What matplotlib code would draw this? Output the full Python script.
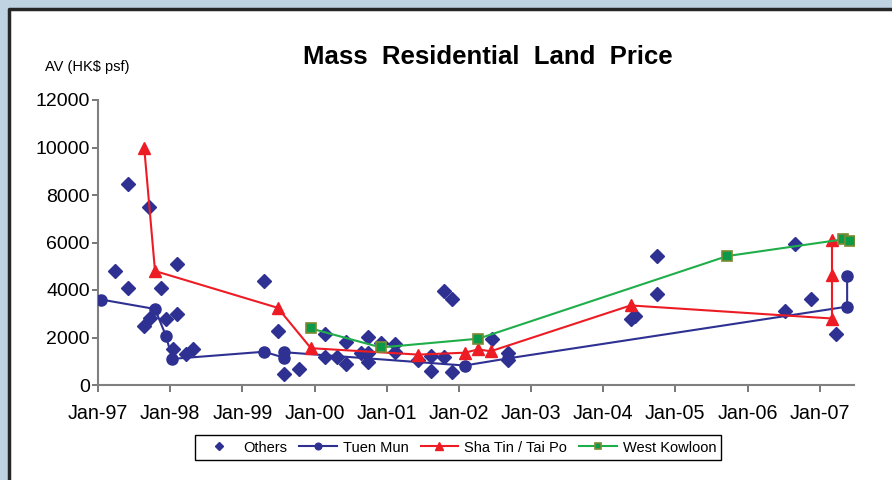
import numpy as np
import matplotlib
matplotlib.use('Agg')
import matplotlib.pyplot as plt
from matplotlib.patches import Rectangle
from matplotlib.lines import Line2D

plt.rcParams['font.family'] = ['Liberation Sans', 'DejaVu Sans']

# x values are decimal years
others_x = [1997.23, 1997.42, 1997.42, 1997.64, 1997.71, 1997.72, 1997.87, 1997.94,
            1998.04, 1998.10, 1998.10, 1998.22, 1998.31, 1999.30, 1999.49, 1999.58,
            1999.78, 2000.15, 2000.15, 2000.31, 2000.43, 2000.43, 2000.65, 2000.74,
            2000.74, 2000.74, 2000.92, 2001.12, 2001.12, 2001.44, 2001.61, 2001.61,
            2001.79, 2001.79, 2001.90, 2001.90, 2002.46, 2002.68, 2002.68, 2004.38,
            2004.44, 2004.75, 2004.75, 2006.52, 2006.66, 2006.88, 2007.22]
others_y = [4800, 8450, 4100, 2480, 7500, 2840, 4100, 2770,
            1520, 5080, 2980, 1290, 1520, 4380, 2290, 460,
            670, 2130, 1165, 1165, 1800, 880, 1350, 1350,
            2030, 950, 1750, 1730, 1380, 1050, 1235, 600,
            1165, 3960, 3610, 530, 1940, 1330, 1050, 2780,
            2900, 5430, 3830, 3130, 5920, 3620, 2130]

tuen_mun_x = [1997.04, 1997.79, 1997.94, 1998.03, 1999.30, 1999.58, 1999.58,
              2002.08, 2002.68, 2007.38, 2007.38]
tuen_mun_y = [3600, 3200, 2080, 1100, 1400, 1150, 1380, 820, 1120, 3300, 4600]

sha_tin_x = [1997.64, 1997.79, 1999.49, 1999.95, 2001.44, 2002.08, 2002.27,
             2002.44, 2004.38, 2007.17, 2007.17, 2007.17]
sha_tin_y = [10000, 4800, 3250, 1550, 1280, 1360, 1500, 1420, 3350, 2800, 4620, 6100]

west_kln_x = [1999.95, 2000.92, 2002.27, 2005.72, 2007.32, 2007.42]
west_kln_y = [2380, 1580, 1950, 5430, 6130, 6070]

tick_years = list(range(1997, 2008))
tick_labels = ['Jan-97', 'Jan-98', 'Jan-99', 'Jan-00', 'Jan-01', 'Jan-02',
               'Jan-03', 'Jan-04', 'Jan-05', 'Jan-06', 'Jan-07']

fig = plt.figure(figsize=(8.92, 4.8), dpi=100)
fig.patch.set_facecolor('#bfd3e3')

# white panel, dark border only on top and left
x0, y1 = 9 / 892, 1 - 9 / 480
fig.add_artist(Rectangle((x0, -0.05), 1.1, y1 + 0.05, transform=fig.transFigure,
                         facecolor='white', edgecolor='none', zorder=0))
fig.add_artist(Line2D([x0, x0, 1.05], [-0.05, y1, y1], transform=fig.transFigure,
                      color='#262626', lw=2.5, zorder=0.5))

ax = fig.add_axes([98 / 892, 95 / 480, 756 / 892, 285 / 480])
ax.set_facecolor('none')

navy = '#2e3192'
red = '#ed1c24'
green = '#1fae4a'

ax.plot(others_x, others_y, linestyle='none', marker='D', markersize=7,
        color=navy, label='Others', zorder=3)
ax.plot(tuen_mun_x, tuen_mun_y, color=navy, lw=1.5, marker='o', markersize=8,
        label='Tuen Mun', zorder=4)
ax.plot(sha_tin_x, sha_tin_y, color=red, lw=1.5, marker='^', markersize=9,
        label='Sha Tin / Tai Po', zorder=5)
ax.plot(west_kln_x, west_kln_y, color=green, lw=1.5, marker='s', markersize=7.5,
        markerfacecolor='#0a9a48', markeredgecolor='#7d8a32', markeredgewidth=1.2,
        label='West Kowloon', zorder=6)

ax.set_xlim(1997, 2007.475)
ax.set_ylim(0, 12000)
ax.set_xticks(tick_years)
ax.set_xticklabels(tick_labels)
ax.set_yticks(np.arange(0, 12001, 2000))

for s in ['top', 'right']:
    ax.spines[s].set_visible(False)
for s in ['left', 'bottom']:
    ax.spines[s].set_color('#808080')
    ax.spines[s].set_linewidth(1.5)
ax.tick_params(axis='x', direction='out', length=5, width=1.2, color='#606060',
               labelsize=14.2, pad=9)
ax.tick_params(axis='y', direction='out', length=4, width=1.2, color='#606060',
               labelsize=14, pad=2)

fig.text(488 / 892, 1 - 57 / 480, 'Mass  Residential  Land  Price',
         ha='center', va='center', fontsize=18.5, fontweight='bold')
fig.text(45 / 892, 1 - 67 / 480, 'AV (HK$ psf)', ha='left', va='center',
         fontsize=10.5)

fig.legend(loc='center', bbox_to_anchor=(458 / 892, 1 - 447.5 / 480), ncol=4,
           fontsize=10.5, frameon=True, fancybox=False, edgecolor='black',
           framealpha=1, markerscale=0.6, handlelength=2.6, handletextpad=0.4,
           columnspacing=0.8, borderpad=0.35)

fig.savefig('out.png', dpi=100, facecolor=fig.get_facecolor())
